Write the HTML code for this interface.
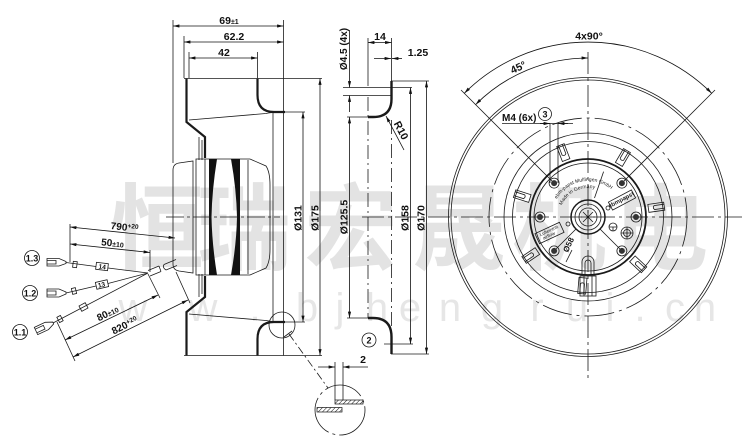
<!DOCTYPE html>
<html><head><meta charset="utf-8">
<style>html,body{margin:0;padding:0;background:#fff}svg{display:block}</style>
</head>
<body>
<svg width="750" height="438" viewBox="0 0 750 438" xmlns="http://www.w3.org/2000/svg">
<defs>
<marker id="a" viewBox="0 0 8 4" refX="8" refY="2" markerWidth="7" markerHeight="3.2" markerUnits="userSpaceOnUse" orient="auto-start-reverse"><path d="M0,0L8,2L0,4z" fill="#111"/></marker>
<pattern id="h" width="3" height="3" patternUnits="userSpaceOnUse" patternTransform="rotate(45)"><line x1="0" y1="0" x2="0" y2="3" stroke="#111" stroke-width="1"/></pattern>
</defs>
<rect width="750" height="438" fill="#fff"/>

<!-- watermark -->
<g fill="#e3e3e3" font-family="'Liberation Sans','Noto Sans CJK SC','WenQuanYi Zen Hei',sans-serif" font-weight="bold" font-size="94">
<text x="110" y="262">恒</text>
<text x="197" y="262">瑞</text>
<text x="304" y="262">宏</text>
<text x="412" y="262">晟</text>
<text x="512" y="262">机</text>
<text x="614" y="262">电</text>
</g>
<g fill="#e6e6e6" font-family="'Liberation Sans',sans-serif" font-size="40" text-anchor="middle">
<text x="133" y="321">w</text><text x="203" y="321">w</text><text x="255" y="321">.</text>
<text x="307" y="321">b</text><text x="340" y="321">j</text><text x="377" y="321">h</text>
<text x="410" y="321">e</text><text x="450" y="321">n</text><text x="492" y="321">g</text>
<text x="537" y="321">r</text><text x="577" y="321">u</text><text x="610" y="321">i</text>
<text x="640" y="321">.</text><text x="675" y="321">c</text><text x="705" y="321">n</text>
</g>

<!-- ============ LEFT SIDE VIEW ============ -->
<g id="lh" fill="none" stroke="#1a1a1a" stroke-width=".8">
<line x1="184" y1="78.5" x2="322" y2="78.5"/>
<path d="M186.5,78.5V122L205,137V158" stroke-width="2.2"/>
<path d="M189,120L266,113.5Q271,112.5 274,112.5"/>
<path d="M257.5,78.5V95Q257.5,112 274,112H285" stroke-width="2.2"/>
<line x1="285" y1="112" x2="305" y2="112"/>
<line x1="273" y1="112" x2="273" y2="217"/>
<line x1="283.5" y1="78.5" x2="283.5" y2="217"/>
<line x1="199" y1="137" x2="199" y2="160"/>
<line x1="202" y1="140" x2="202" y2="160"/>
<path d="M173,217V170Q173,164 179,163L193,161V217"/>
<path d="M196,217V159H250L266,166Q270,172 270,185V217"/>
<line x1="248" y1="160" x2="248" y2="217"/>
<line x1="205" y1="159" x2="205" y2="217"/>
<path d="M209,159H217Q212,190 211.5,217H209Z" fill="#111" stroke="none"/>
<path d="M240,159H231Q236.5,190 237,217H240Z" fill="#111" stroke="none"/>
</g>
<use href="#lh" transform="translate(0,434) scale(1,-1)"/>

<g fill="none" stroke="#1a1a1a" stroke-width=".8">
<line x1="173" y1="20" x2="173" y2="163"/>
<line x1="184" y1="36" x2="184" y2="78"/>
<line x1="189" y1="52" x2="189" y2="78"/>
<line x1="257.5" y1="52" x2="257.5" y2="78"/>
<line x1="283.5" y1="20" x2="283.5" y2="78.5"/>
<line x1="166" y1="217" x2="280" y2="217" stroke-dasharray="18 3 3 3"/>
<circle cx="282" cy="325" r="13"/>
<line x1="289" y1="334" x2="328" y2="388" stroke-dasharray="8 3 2 3"/>
<line x1="284" y1="337" x2="292" y2="331"/>
</g>
<g stroke="#111" stroke-width=".8" marker-start="url(#a)" marker-end="url(#a)">
<line x1="173" y1="26" x2="283.5" y2="26"/>
<line x1="184" y1="42" x2="283.5" y2="42"/>
<line x1="189" y1="58" x2="257.5" y2="58"/>
<line x1="303" y1="112" x2="303" y2="322"/>
<line x1="320" y1="78.5" x2="320" y2="355.5"/>
</g>

<!-- wires -->
<g fill="none" stroke="#1a1a1a" stroke-width=".8">
<path d="M47,258.5H59L66,261.5V263.5L59,266H47Z"/>
<path d="M47,260.5H56V264H47"/>
<path d="M66,262.5L96,266.5M108,268L148,273"/>
<rect x="73" y="261.5" width="4" height="6" transform="rotate(7 75 264)"/>
<rect x="96" y="263" width="12" height="7" transform="rotate(7 102 266.5)"/>

<path d="M47,289H59L66,292V294L59,297H47Z"/>
<path d="M47,291H56V295H47"/>
<path d="M66,293L96,286M108,283.5L148,273"/>
<rect x="72" y="288" width="4" height="6" transform="rotate(-13 74 291)"/>
<rect x="96" y="281" width="12" height="7" transform="rotate(-13 102 284.5)"/>

<g transform="translate(36,331) rotate(-25)"><path d="M0,-4H12L19,-1V1L12,4H0Z"/><path d="M0,-2H9V2H0"/></g>
<path d="M53,323L148,273"/>
<rect x="58" y="316" width="4" height="6" transform="rotate(-28 60 319)"/>
<rect x="80" y="304" width="7" height="6" transform="rotate(-28 83.5 307)"/>

<path d="M148,270.5L159,266M150,276L161,271.5M159,266L161,271.5"/>
<path d="M164,264.5L176,259.5M166,270L177,265.5M164,264.5Q162,267.5 166,270"/>

<line x1="70" y1="224" x2="70" y2="262"/>
<line x1="150" y1="250" x2="150" y2="272"/>
<line x1="57" y1="322" x2="75" y2="361"/>
<line x1="148" y1="274" x2="160" y2="298"/>
<line x1="176" y1="272" x2="190" y2="303"/>
</g>
<g stroke="#111" stroke-width=".8" marker-start="url(#a)" marker-end="url(#a)">
<line x1="70" y1="227" x2="175" y2="238"/>
<line x1="70" y1="244" x2="150" y2="252.5"/>
<line x1="65" y1="340" x2="158" y2="295"/>
<line x1="73" y1="357" x2="188" y2="300"/>
</g>
<g fill="#111" stroke="#111" stroke-width=".8">
<circle cx="32" cy="258" r="7.5" fill="#fff"/>
<circle cx="30" cy="293" r="7.5" fill="#fff"/>
<circle cx="20" cy="332" r="7.5" fill="#fff"/>
</g>

<!-- ============ MIDDLE SECTION ============ -->
<g fill="none" stroke="#1a1a1a" stroke-width=".8">
<line x1="368" y1="38" x2="368" y2="86"/>
<line x1="391.5" y1="38" x2="391.5" y2="81"/>
<line x1="343" y1="87.5" x2="412" y2="87.5"/>
<line x1="343" y1="95.5" x2="391" y2="95.5"/>
<line x1="347" y1="117" x2="368" y2="117"/>
<line x1="347" y1="318" x2="368" y2="318"/>
<line x1="391" y1="81" x2="429" y2="81"/>
<line x1="391" y1="354" x2="429" y2="354"/>
<line x1="384" y1="344" x2="413" y2="344"/>
<path d="M391.5,81V99Q391.5,117 373,117H368" stroke-width="2.4"/>
<path d="M368,318H373Q391.5,318 391.5,337V354" stroke-width="2.4"/>
<line x1="368" y1="97" x2="368" y2="318" stroke-dasharray="14 4 2 4"/>
<line x1="391.5" y1="120" x2="391.5" y2="337" stroke-dasharray="14 4 2 4"/>
<line x1="362" y1="217" x2="742" y2="217" stroke-dasharray="22 4 3 4"/>
<circle cx="369" cy="340" r="7"/>
<circle cx="340" cy="410" r="25" stroke-dasharray="40 4 3 4"/>
<line x1="335" y1="362" x2="335" y2="400"/>
<line x1="343" y1="362" x2="343" y2="400"/>
</g>
<rect x="335" y="400" width="28" height="4" fill="url(#h)" stroke="#111" stroke-width=".7"/>
<rect x="317" y="407.5" width="25" height="4.5" fill="url(#h)" stroke="#111" stroke-width=".7"/>
<g stroke="#111" stroke-width=".8" fill="none">
<line x1="368" y1="42.5" x2="391.5" y2="42.5" marker-start="url(#a)" marker-end="url(#a)"/>
<line x1="374" y1="58.5" x2="391" y2="58.5" marker-end="url(#a)"/>
<line x1="392" y1="58.5" x2="402" y2="58.5" marker-start="url(#a)"/>
<line x1="349.5" y1="30" x2="349.5" y2="87.5" marker-end="url(#a)"/>
<line x1="349.5" y1="95.5" x2="349.5" y2="112" marker-start="url(#a)"/>
<line x1="349.5" y1="117" x2="349.5" y2="318" marker-start="url(#a)" marker-end="url(#a)"/>
<line x1="410.5" y1="87.5" x2="410.5" y2="344" marker-start="url(#a)" marker-end="url(#a)"/>
<line x1="426.5" y1="81" x2="426.5" y2="354" marker-start="url(#a)" marker-end="url(#a)"/>
<line x1="404" y1="150" x2="386" y2="116" marker-end="url(#a)"/>
<line x1="318" y1="367" x2="335" y2="367" marker-end="url(#a)"/>
<line x1="343" y1="367" x2="368" y2="367" marker-start="url(#a)"/>
</g>

<!-- ============ RIGHT FRONT VIEW ============ -->
<g fill="none" stroke="#1a1a1a" stroke-width=".8">
<circle cx="588" cy="217" r="139.5"/>
<circle cx="588" cy="217" r="137"/>
<circle cx="588" cy="217" r="99" stroke-dasharray="30 5 3 5"/>
<circle cx="588" cy="217" r="84"/>
<circle cx="588" cy="217" r="75.5"/>
<circle cx="588" cy="217" r="58" stroke-width="1.8"/>
<circle cx="588" cy="217" r="54"/>
<circle cx="588" cy="217" r="17" stroke-width="1.5"/>
<circle cx="588" cy="217" r="13"/>
<circle cx="588" cy="217" r="9"/>
<line x1="588" y1="52" x2="588" y2="378" stroke-dasharray="22 4 3 4"/>
<g transform="rotate(-111 588 217)"><rect x="649" y="213" width="16" height="8"/><path d="M665,215H655Q653,217 655,219H665"/></g>
<g transform="rotate(-59.6 588 217)"><rect x="649" y="213" width="16" height="8"/><path d="M665,215H655Q653,217 655,219H665"/></g>
<g transform="rotate(-8.1 588 217)"><rect x="649" y="213" width="16" height="8"/><path d="M665,215H655Q653,217 655,219H665"/></g>
<g transform="rotate(43.3 588 217)"><rect x="649" y="213" width="16" height="8"/><path d="M665,215H655Q653,217 655,219H665"/></g>
<g transform="rotate(94.7 588 217)"><rect x="649" y="213" width="16" height="8"/><path d="M665,215H655Q653,217 655,219H665"/></g>
<g transform="rotate(146.1 588 217)"><rect x="649" y="213" width="16" height="8"/><path d="M665,215H655Q653,217 655,219H665"/></g>
<g transform="rotate(197.6 588 217)"><rect x="649" y="213" width="16" height="8"/><path d="M665,215H655Q653,217 655,219H665"/></g>
<line x1="461" y1="90" x2="554.1" y2="183.1"/>
<line x1="715" y1="90" x2="621.9" y2="183.1"/>
<line x1="576" y1="229" x2="554.1" y2="250.9"/>
<line x1="600" y1="229" x2="621.9" y2="250.9"/>
<line x1="594.5" y1="198" x2="603.6" y2="171.6"/>
<path d="M581,217H595M588,210V224M583,212L593,222M593,212L583,222"/>
<line x1="502" y1="123.5" x2="573" y2="123.5"/>
<line x1="550" y1="123.5" x2="550" y2="183"/>
<line x1="558" y1="123.5" x2="558" y2="183"/>
<circle cx="545" cy="114" r="6.5"/>
<circle cx="636" cy="217" r="5"/><circle cx="540" cy="217" r="5"/>
<circle cx="621.9" cy="183.1" r="5"/><circle cx="554.1" cy="183.1" r="5"/>
<circle cx="621.9" cy="250.9" r="5"/><circle cx="554.1" cy="250.9" r="5"/>
<circle cx="613" cy="227" r="4"/><path d="M609,227H617M613,227V231"/>
<circle cx="627" cy="233" r="6"/><circle cx="627" cy="233" r="3.5"/><path d="M621,233H633M627,227V239"/>
<circle cx="568" cy="224" r="2"/><circle cx="608" cy="208" r="2"/>
<rect x="609" y="195.5" width="26" height="9" transform="rotate(-28 622 200)"/>
<rect x="536" y="227.5" width="27" height="11" transform="rotate(-25 549.5 233)"/>
<path d="M582,275V262A6,6 0 0 1 594,262V275"/>
<path d="M585,275V263A3,3 0 0 1 591,263V275"/>
<rect x="580" y="276" width="16" height="20"/>
<path d="M584,276V296M592,276V296"/>
<line x1="566" y1="262" x2="572" y2="250"/>
</g>
<g fill="#333">
<circle cx="636" cy="217" r="3"/><circle cx="540" cy="217" r="3"/>
<circle cx="621.9" cy="183.1" r="3"/><circle cx="554.1" cy="183.1" r="3"/>
<circle cx="621.9" cy="250.9" r="3"/><circle cx="554.1" cy="250.9" r="3"/>
</g>
<path id="arc1" d="M556.8,199 A36,36 0 0 1 615.6,193.9" fill="none"/>
<path id="arc2" d="M561.7,205.3 A29,29 0 0 1 595.5,189" fill="none"/>
<g font-family="'Liberation Sans',sans-serif" font-size="5" fill="#222">
<text><textPath href="#arc1">ebm-papst Mulfingen GmbH</textPath></text>
<text><textPath href="#arc2">Made in Germany</textPath></text>
<text transform="translate(622,201.5) rotate(-28)" text-anchor="middle" font-weight="bold" font-size="6">ebmpapst</text>
<text transform="translate(549.5,232) rotate(-25)" text-anchor="middle" font-size="4.5">Lufteintritt</text>
<text transform="translate(549.5,237) rotate(-25)" text-anchor="middle" font-size="4.5">airflow</text>
</g>
<g stroke="#111" stroke-width=".8" fill="none" marker-start="url(#a)" marker-end="url(#a)">
<path d="M464.3,93.3 A175,175 0 0 1 711.7,93.3"/>
<path d="M475.6,104.6 A159,159 0 0 1 588,58"/>
</g>
<g stroke="#111" stroke-width=".8" marker-end="url(#a)">
<line x1="540" y1="123.5" x2="550" y2="123.5"/>
<line x1="568" y1="123.5" x2="558" y2="123.5"/>
</g>

<!-- ============ LABELS ============ -->
<g font-family="'Liberation Sans',Arial,sans-serif" font-weight="bold" font-size="10.5" fill="#111" text-anchor="middle">
<text x="229" y="24">69<tspan font-size="7">±1</tspan></text>
<text x="234" y="40">62.2</text>
<text x="224" y="56">42</text>
<text transform="translate(301.5,218) rotate(-90)">Ø131</text>
<text transform="translate(318.5,218) rotate(-90)">Ø175</text>
<text transform="translate(347.5,217) rotate(-90)">Ø125.5</text>
<text transform="translate(408.5,218) rotate(-90)">Ø158</text>
<text transform="translate(424.5,218) rotate(-90)">Ø170</text>
<text transform="translate(347,49) rotate(-90)" font-size="10">Ø4.5 (4x)</text>
<text x="380" y="40">14</text>
<text x="418" y="56">1.25</text>
<text transform="translate(398,132) rotate(62)">R10</text>
<text x="363" y="363">2</text>
<text x="369" y="343.5" font-size="9">2</text>
<text x="589" y="39.5">4x90°</text>
<text transform="translate(520.8,72.9) rotate(-25)" y="-2.5">45°</text>
<text x="502" y="121" text-anchor="start" font-size="10">M4 (6x)</text>
<text x="545" y="117.5" font-size="9">3</text>
<text transform="translate(571,246) rotate(-65)" font-size="8">Ø58</text>
<text transform="translate(124,232.5) rotate(6.1)" y="-2" font-size="10">790<tspan font-size="6.5" dy="-3">+20</tspan></text>
<text transform="translate(112,248.4) rotate(6.1)" y="-2" font-size="10">50<tspan font-size="7">±10</tspan></text>
<text transform="translate(110,318.2) rotate(-25.8)" y="-2" font-size="10">80<tspan font-size="7">±10</tspan></text>
<text transform="translate(127,330.2) rotate(-26.4)" y="-2" font-size="10">820<tspan font-size="6.5" dy="-3">+20</tspan></text>
<text x="32" y="261.5" font-size="9">1.3</text>
<text x="30" y="296.5" font-size="9">1.2</text>
<text x="20" y="335.5" font-size="9">1.1</text>
<text transform="translate(102,269) rotate(7)" font-size="6.5">14</text>
<text transform="translate(102,287) rotate(-13)" font-size="6.5">13</text>
</g>
</svg>
</body></html>
